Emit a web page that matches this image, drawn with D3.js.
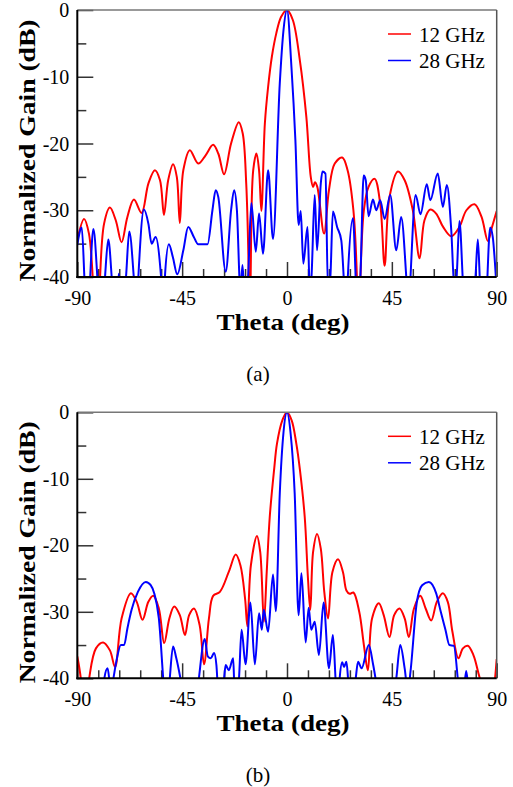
<!DOCTYPE html>
<html>
<head>
  <meta charset="utf-8">
  <title>Normalized Gain vs Theta</title>
  <style>
    body { margin: 0; background: #fff; }
  </style>
</head>
<body>
  <div id="chart"></div>
  <script src="https://d3js.org/d3.v7.min.js"></script>
  <script>
    // (a) 12 GHz
    const thetaA12 = [-90, -87.1, -85, -83, -81.5, -80.5, -78.5, -76, -73.5, -71, -68.5, -65.7, -62.4, -59.5, -56.7, -54.5, -52.8, -51, -48.9, -47.3, -46, -44.5, -41.7, -38.1, -35, -31.7, -29.5, -27, -24, -20.7, -19, -17.5, -16.4, -16, -15.6, -14.5, -13.1, -12, -11, -9.5, -8.1, -6.5, -4.6, -2.5, 0, 2.5, 5.5, 8.3, 10.2, 11.2, 12, 13, 15.9, 18, 20.5, 23.7, 26, 28.5, 30, 30.5, 31.5, 33, 35, 37.6, 40, 41.9, 44, 47.6, 50.5, 54, 56.9, 59, 61.5, 64, 67, 70.5, 74, 77, 80.5, 83.5, 86.2, 88, 90];
    const gainA12 = [-34.5, -31.3, -33.5, -42, -48, -42, -32, -29.6, -31.5, -34.8, -31, -28.4, -30.4, -26, -24.0, -25.5, -30.7, -25.5, -23.1, -25, -31.9, -24, -21.0, -23.0, -21.8, -20.2, -21.5, -24.6, -20, -16.8, -18.5, -26, -40, -55, -40, -24, -21.5, -24, -30.1, -17, -11.5, -7, -3.5, -1.0, 0, -1.5, -7.5, -16, -25, -26.5, -25.8, -26.5, -33.5, -27, -23, -22.1, -24, -30, -40, -50, -40, -30, -26.5, -25.3, -29, -38.3, -28, -24.2, -25.5, -30, -37.2, -31.5, -29.9, -30.5, -32.5, -33.9, -32.5, -30, -29.1, -31, -34.6, -32.5, -30.1];

    // (a) 28 GHz
    const thetaA28 = [-90, -88.1, -86.7, -85.5, -84.6, -83.1, -81, -79.5, -78.1, -76.7, -74.8, -73.5, -72.2, -71, -69.1, -67.7, -65.3, -64.5, -63.8, -61.4, -59.5, -58.1, -56.4, -53.6, -53, -52.4, -50.7, -49, -47.1, -44.5, -42.4, -40, -38.1, -34.1, -32, -30.6, -29.5, -26.3, -24, -22.7, -21.5, -20, -19.1, -18, -16.7, -15.3, -13.4, -12, -10.3, -8.1, -6, -3.1, -1.5, 0, 1.9, 3.6, 5, 5.9, 7, 8.8, 9.8, 10.5, 11.9, 12.9, 14.5, 15.2, 16.5, 17.6, 18.6, 19.7, 21.5, 23.3, 24.7, 25.5, 26.1, 28.3, 29.7, 30.2, 31.5, 32.9, 33.8, 35, 36.9, 38.3, 40, 41.9, 44.3, 46.9, 49, 51.6, 52.3, 53, 55.2, 57.3, 60, 61.5, 64.7, 66.9, 68.6, 70.5, 71.9, 72.8, 74, 75.7, 78, 80.9, 81.9, 83, 85, 87.2, 88.3, 90];
    const gainA28 = [-35.2, -32.6, -42, -48, -41, -32.8, -42, -48, -40, -34.4, -42, -46, -39.5, -46, -40, -33.2, -42, -45, -40, -29.9, -32, -35, -34, -42, -45, -40, -35.1, -37, -39.6, -36, -32.5, -34, -35.1, -35.1, -30, -27, -28, -39.2, -30, -27, -30, -42, -38.2, -44, -40, -28.9, -36.2, -30.5, -36.5, -24, -34.3, -11, -3, 0, -8.5, -19.5, -32.2, -30.1, -38, -32.5, -42, -40, -27.7, -36, -26, -24.2, -24.5, -42, -40, -30.2, -32.5, -34.5, -42, -45, -40, -31.2, -42, -45, -40, -24.8, -25.5, -30.9, -28.4, -30, -28.5, -31.3, -27.7, -36, -31, -42, -45, -40, -27.7, -30.6, -26.1, -28.5, -24.5, -29.5, -26.2, -33, -42, -40, -31.6, -42, -48, -40, -34.4, -42, -46, -32.6, -34, -42];

    // (b) 12 GHz
    const thetaB12 = [-90, -88.5, -87, -84.9, -82, -78.9, -76, -73.8, -71, -67, -64.5, -62, -59.5, -57.4, -55, -52.7, -50.5, -48.4, -46, -43.8, -42, -39.9, -37.5, -35.6, -33.5, -31.7, -28.8, -25, -22, -20, -18, -17, -15.5, -12.9, -11.5, -9.9, -8.7, -7.4, -5.5, -4.3, -2, 0, 2, 4, 5.5, 7.6, 9, 10, 11.2, 12.9, 14.5, 16, 17.6, 19.5, 21.9, 24, 25.5, 26.9, 28.5, 31, 33, 34.7, 36.5, 39.4, 41.5, 44, 46, 48.3, 50.5, 52.3, 54.5, 57.2, 59.5, 61.9, 64.3, 66.9, 69, 71, 73.6, 75.5, 77.6, 80, 82, 84, 86, 88.7, 90];
    const gainB12 = [-36.7, -40, -48, -40, -35.5, -34.6, -35.8, -38.3, -31, -27.2, -28.5, -31.2, -28.5, -27.6, -29.5, -34.7, -31, -29.2, -30.5, -33.5, -30.5, -29.5, -32, -37.9, -31, -27.6, -27.0, -24, -21.4, -23, -28, -32.2, -23, -18.6, -21, -31.5, -24, -15.7, -8.5, -4.7, -1.2, 0, -1.2, -4.7, -8.5, -15.7, -25, -29.7, -21, -18.3, -20.5, -27, -31, -24, -22.1, -24, -26.8, -27.3, -27.1, -30, -35, -38.8, -31, -28.7, -30.5, -33.8, -30.5, -29.5, -31, -33.8, -29.5, -27.6, -29.5, -31.3, -28.5, -27.2, -28.5, -33, -37, -35.5, -35.1, -36.5, -39, -42, -48, -42, -37.1];

    // (b) 28 GHz
    const thetaB28 = [-90, -80, -78.4, -77, -76, -75.5, -74.5, -73, -71.3, -69.9, -68.5, -66.7, -64, -60.6, -58.5, -57, -55, -52.7, -51.5, -50.3, -48.9, -47.5, -44.6, -42, -38.6, -35.3, -34, -32.7, -31.3, -30.3, -29.6, -28.3, -27, -26.3, -25, -23.1, -22.5, -21.5, -20.6, -19.5, -17.8, -15.7, -13.8, -12, -10.8, -10, -8.1, -6, -4.8, -3.1, -1.5, 0, 1.5, 3.3, 5, 6.2, 8, 9.3, 10.4, 11.9, 13.7, 15.7, 18, 19.7, 21.2, 22, 22.6, 23.7, 24.5, 25.5, 26.3, 26.9, 28, 29.5, 30.5, 32, 35.1, 37, 39, 43, 46.9, 48.6, 50.5, 51.9, 53, 55.7, 58, 60.9, 64, 66, 68, 69.7, 71.6, 74, 75.5, 76.9, 78, 80, 90];
    const gainB28 = [-45, -46, -40, -38.5, -41, -42, -40, -37, -35, -35, -32.5, -29.7, -27, -25.5, -26, -27.2, -31, -42, -46, -40, -35.2, -37, -42, -46, -42, -34.1, -36.7, -37, -36.2, -38, -42, -45, -40, -38, -38.8, -37, -42, -43, -40, -32.7, -37.9, -28.6, -37.9, -30.2, -32.7, -29.7, -33, -24.4, -29.9, -12.2, -3, 0, -3, -12.2, -30.5, -24.2, -34.6, -29.4, -32.7, -31.5, -36.5, -28.6, -38.5, -33.5, -42, -43, -40, -37.6, -38.3, -37.5, -40.5, -43, -45, -40, -37.5, -38.5, -35, -38, -42, -46, -40, -35, -38.5, -42, -39, -28.6, -26, -25.5, -27.2, -30, -32.7, -35, -35.1, -42, -43, -38.9, -42, -46, -46];

    const yTicks = [0, -10, -20, -30, -40];
    const xTicks = [-90, -45, 0, 45, 90];
    const seriesNames = ['12 GHz', '28 GHz'];
    const seriesColors = ['#ff0000', '#0000ff'];

    const serif = 'Liberation Serif';
    const width = 513;
    const height = 787;

    const svg = d3.select('#chart')
      .append('svg')
      .attr('width', width)
      .attr('height', height)
      .attr('font-family', serif);

    const zip = (t, g) => t.map((d, i) => ({ theta: d, gain: g[i] }));

    const panels = [
      { id: 'a', top: 10, bottom: 277, caption: '(a)',
        series: [zip(thetaA12, gainA12), zip(thetaA28, gainA28)] },
      { id: 'b', top: 412.3, bottom: 678.3, caption: '(b)',
        series: [zip(thetaB12, gainB12), zip(thetaB28, gainB28)] }
    ];

    const left = 77.3;
    const right = 496.7;

    panels.forEach(p => {
      const x = d3.scaleLinear().domain([-90, 90]).range([left, right]);
      const y = d3.scaleLinear().domain([-40, 0]).range([p.bottom, p.top]);
      const g = svg.append('g').attr('class', `panel-${p.id}`);

      g.append('clipPath')
        .attr('id', `clip-${p.id}`)
        .append('rect')
        .attr('x', left)
        .attr('y', p.top)
        .attr('width', right - left)
        .attr('height', p.bottom - p.top);

      // minor ticks
      const yMinor = d3.axisLeft(y).tickValues(d3.range(-35, 0, 10)).tickSizeInner(-9).tickSizeOuter(0).tickFormat('');
      const xMinor = d3.axisBottom(x).tickValues(d3.range(-81, 90, 9).filter(v => v % 45 !== 0)).tickSizeInner(-8).tickSizeOuter(0).tickFormat('');
      g.append('g').attr('transform', `translate(${left},0)`).call(yMinor);
      g.append('g').attr('transform', `translate(0,${p.bottom})`).call(xMinor);

      // major ticks with labels
      const yAxis = d3.axisLeft(y).tickValues(yTicks).tickSizeInner(-16).tickSizeOuter(0).tickFormat(d => String(d));
      const xAxis = d3.axisBottom(x).tickValues(xTicks).tickSizeInner(-15).tickSizeOuter(0).tickFormat(d => String(d));
      const ya = g.append('g').attr('transform', `translate(${left},0)`).call(yAxis);
      const xa = g.append('g').attr('transform', `translate(0,${p.bottom})`).call(xAxis);

      g.selectAll('g').attr('font-family', serif);
      g.selectAll('.tick line').attr('stroke', '#333').attr('stroke-width', 1.5);
      g.selectAll('.domain').remove();
      [ya, xa].forEach(a => {
        a.selectAll('text')
          .attr('font-family', serif)
          .attr('font-size', 20)
          .attr('fill', '#000');
      });
      ya.selectAll('text').attr('x', -8).attr('dy', '0.33em');
      xa.selectAll('text').attr('dy', 0).attr('y', 28);

      // curves
      const line = d3.line()
        .x(d => x(d.theta))
        .y(d => y(d.gain));

      const curves = g.append('g').attr('clip-path', `url(#clip-${p.id})`);
      p.series.forEach((s, i) => {
        curves.append('path')
          .datum(s)
          .attr('fill', 'none')
          .attr('stroke', seriesColors[i])
          .attr('stroke-width', 2)
          .attr('stroke-linejoin', 'round')
          .attr('d', line.curve(i === 0 ? d3.curveCatmullRom.alpha(0.5) : d3.curveMonotoneX));
      });

      // frame
      g.append('line').attr('x1', left).attr('x2', right).attr('y1', p.top).attr('y2', p.top)
        .attr('stroke', '#777').attr('stroke-width', 1.5);
      g.append('line').attr('x1', right).attr('x2', right).attr('y1', p.top).attr('y2', p.bottom)
        .attr('stroke', '#555').attr('stroke-width', 1.5);
      g.append('line').attr('x1', left).attr('x2', left).attr('y1', p.top).attr('y2', p.bottom + 1)
        .attr('stroke', '#000').attr('stroke-width', 2);
      g.append('line').attr('x1', left - 1).attr('x2', right).attr('y1', p.bottom).attr('y2', p.bottom)
        .attr('stroke', '#000').attr('stroke-width', 2);

      // legend
      const legend = g.append('g').attr('transform', `translate(388,${p.top + 24})`);
      seriesNames.forEach((name, i) => {
        const row = legend.append('g').attr('transform', `translate(0,${i * 26.5})`);
        row.append('line').attr('x1', 0).attr('x2', 23).attr('y1', 0).attr('y2', 0)
          .attr('stroke', seriesColors[i]).attr('stroke-width', 1.5);
        row.append('text').attr('x', 31).attr('y', 7.5)
          .attr('font-family', serif)
          .attr('font-size', 21).text(name);
      });

      // axis titles
      g.append('text')
        .attr('x', (left + right) / 2 - 4)
        .attr('y', p.bottom + 53)
        .attr('text-anchor', 'middle')
        .attr('font-family', serif)
        .attr('font-weight', 'bold')
        .attr('font-size', 24)
        .attr('textLength', 133)
        .attr('lengthAdjust', 'spacingAndGlyphs')
        .text('Theta (deg)');

      g.append('text')
        .attr('transform', `translate(35,${(p.top + p.bottom) / 2 + 7}) rotate(-90)`)
        .attr('text-anchor', 'middle')
        .attr('font-family', serif)
        .attr('font-weight', 'bold')
        .attr('font-size', 24)
        .attr('textLength', 262)
        .attr('lengthAdjust', 'spacingAndGlyphs')
        .text('Normalized Gain (dB)');

      g.append('text')
        .attr('x', 258)
        .attr('y', p.bottom + 104)
        .attr('text-anchor', 'middle')
        .attr('font-family', serif)
        .attr('font-size', 21)
        .text(p.caption);
    });
  </script>
</body>
</html>
